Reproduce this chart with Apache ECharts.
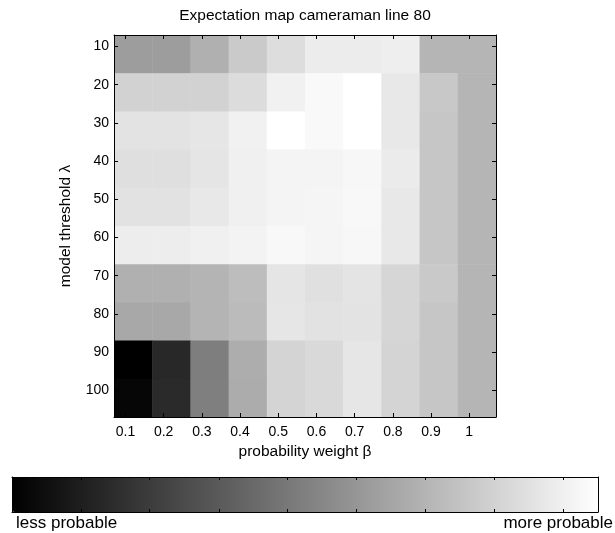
<!DOCTYPE html>
<html>
<head>
<meta charset="utf-8">
<script src="https://cdn.jsdelivr.net/npm/echarts@6/dist/echarts.min.js"></script>
<style>
  html, body { margin: 0; padding: 0; background: #ffffff; }
  #chart { width: 615px; height: 533px; }
</style>
</head>
<body>
<div id="chart"></div>
<script>
// Probability weight beta (columns) and model threshold lambda (rows)
const betaValues = [0.1, 0.2, 0.3, 0.4, 0.5, 0.6, 0.7, 0.8, 0.9, 1.0];
const lambdaValues = [10, 20, 30, 40, 50, 60, 70, 80, 90, 100];

// Normalised expectation (0 = less probable, 1 = more probable), one array per lambda row
const row10  = [0.616, 0.616, 0.690, 0.792, 0.867, 0.925, 0.925, 0.933, 0.710, 0.710];
const row20  = [0.824, 0.824, 0.824, 0.863, 0.945, 0.976, 1.000, 0.910, 0.784, 0.710];
const row30  = [0.890, 0.890, 0.902, 0.945, 1.000, 0.976, 1.000, 0.910, 0.776, 0.710];
const row40  = [0.875, 0.875, 0.898, 0.941, 0.957, 0.957, 0.969, 0.922, 0.776, 0.710];
const row50  = [0.886, 0.886, 0.910, 0.941, 0.957, 0.961, 0.973, 0.910, 0.776, 0.710];
const row60  = [0.929, 0.929, 0.941, 0.953, 0.973, 0.961, 0.969, 0.910, 0.776, 0.710];
const row70  = [0.690, 0.690, 0.706, 0.741, 0.898, 0.878, 0.894, 0.839, 0.788, 0.710];
const row80  = [0.659, 0.659, 0.706, 0.733, 0.902, 0.886, 0.890, 0.839, 0.776, 0.710];
const row90  = [0.000, 0.157, 0.494, 0.678, 0.831, 0.851, 0.902, 0.831, 0.776, 0.710];
const row100 = [0.024, 0.165, 0.498, 0.675, 0.831, 0.851, 0.902, 0.831, 0.776, 0.710];

// Colour bar range and its tick positions
const scaleMin = 0;
const scaleMax = 1;
const scaleTicks = [0.118, 0.235, 0.353, 0.470, 0.588, 0.706, 0.823, 0.941];

const rows = [row10, row20, row30, row40, row50, row60, row70, row80, row90, row100];
const cells = [];
rows.forEach((row, r) => {
  row.forEach((v, c) => cells.push([betaValues[c], lambdaValues[r], v]));
});

// Each cell spans from 0.3 of a step before its tick to 0.7 of a step after it
const betaStep = 0.1, lambdaStep = 10;
const font = '"Liberation Sans", Arial, Helvetica, sans-serif';

const chart = echarts.init(document.getElementById('chart'), null, { renderer: 'canvas' });

const tickStyle = { show: true, inside: true, length: 4, lineStyle: { color: '#000', width: 1 } };
const lineStyle = { show: true, onZero: false, lineStyle: { color: '#000', width: 1 } };

chart.setOption({
  backgroundColor: '#ffffff',
  animation: false,
  textStyle: { fontFamily: font },
  grid: [
    { left: 114, top: 35, width: 382, height: 382 },
    { left: 12, top: 477, width: 586, height: 35 }
  ],
  xAxis: [
    {
      type: 'value', gridIndex: 0, position: 'bottom', z: 10,
      min: betaValues[0] - 0.3 * betaStep, max: betaValues[betaValues.length - 1] + 0.7 * betaStep,
      axisLine: lineStyle,
      axisTick: Object.assign({ customValues: betaValues }, tickStyle),
      axisLabel: {
        customValues: betaValues, margin: 8, color: '#000', fontSize: 14, fontFamily: font,
        formatter: v => String(Math.round(v * 10) / 10)
      },
      splitLine: { show: false },
      name: 'probability weight β', nameLocation: 'middle', nameGap: 26,
      nameTextStyle: { color: '#000', fontSize: 15.5, fontFamily: font }
    },
    {
      type: 'value', gridIndex: 0, position: 'top', z: 10,
      min: betaValues[0] - 0.3 * betaStep, max: betaValues[betaValues.length - 1] + 0.7 * betaStep,
      axisLine: lineStyle,
      axisTick: Object.assign({ customValues: betaValues }, tickStyle),
      axisLabel: { show: false },
      splitLine: { show: false }
    },
    {
      type: 'value', gridIndex: 1, position: 'bottom', z: 10,
      min: scaleMin, max: scaleMax,
      axisLine: lineStyle,
      axisTick: Object.assign({ customValues: scaleTicks }, tickStyle, { length: 3 }),
      axisLabel: { show: false },
      splitLine: { show: false }
    },
    {
      type: 'value', gridIndex: 1, position: 'top', z: 10,
      min: scaleMin, max: scaleMax,
      axisLine: lineStyle,
      axisTick: Object.assign({ customValues: scaleTicks }, tickStyle, { length: 3 }),
      axisLabel: { show: false },
      splitLine: { show: false }
    }
  ],
  yAxis: [
    {
      type: 'value', gridIndex: 0, position: 'left', inverse: true, z: 10,
      min: lambdaValues[0] - 0.3 * lambdaStep, max: lambdaValues[lambdaValues.length - 1] + 0.7 * lambdaStep,
      axisLine: lineStyle,
      axisTick: Object.assign({ customValues: lambdaValues }, tickStyle),
      axisLabel: { customValues: lambdaValues, margin: 5, color: '#000', fontSize: 14, fontFamily: font },
      splitLine: { show: false },
      name: 'model threshold λ', nameLocation: 'middle', nameGap: 40, nameRotate: 90,
      nameTextStyle: { color: '#000', fontSize: 15.5, fontFamily: font }
    },
    {
      type: 'value', gridIndex: 0, position: 'right', inverse: true, z: 10,
      min: lambdaValues[0] - 0.3 * lambdaStep, max: lambdaValues[lambdaValues.length - 1] + 0.7 * lambdaStep,
      axisLine: lineStyle,
      axisTick: Object.assign({ customValues: lambdaValues }, tickStyle),
      axisLabel: { show: false },
      splitLine: { show: false }
    },
    {
      type: 'value', gridIndex: 1, position: 'left', z: 10, min: 0, max: 1,
      axisLine: lineStyle, axisTick: { show: false }, axisLabel: { show: false }, splitLine: { show: false }
    },
    {
      type: 'value', gridIndex: 1, position: 'right', z: 10, min: 0, max: 1,
      axisLine: lineStyle, axisTick: { show: false }, axisLabel: { show: false }, splitLine: { show: false }
    }
  ],
  visualMap: {
    type: 'continuous',
    min: scaleMin, max: scaleMax,
    seriesIndex: 0, dimension: 2,
    orient: 'horizontal',
    left: 12, top: 477,
    itemWidth: 35, itemHeight: 586,
    padding: 0,
    calculable: false, hoverLink: false, realtime: false,
    text: null, showLabel: false,
    inRange: { color: ['#000000', '#ffffff'] }
  },
  series: [{
    type: 'custom',
    coordinateSystem: 'cartesian2d',
    xAxisIndex: 0, yAxisIndex: 0,
    encode: { x: 0, y: 1 },
    data: cells,
    renderItem: (params, api) => {
      const b = api.value(0), l = api.value(1);
      const p1 = api.coord([b - 0.3 * betaStep, l - 0.3 * lambdaStep]);
      const p2 = api.coord([b + 0.7 * betaStep, l + 0.7 * lambdaStep]);
      const x = Math.min(p1[0], p2[0]), y = Math.min(p1[1], p2[1]);
      return {
        type: 'rect',
        shape: { x: x, y: y, width: Math.abs(p2[0] - p1[0]) + 0.5, height: Math.abs(p2[1] - p1[1]) + 0.5 },
        style: { fill: api.visual('color') }
      };
    }
  }],
  graphic: [
    { type: 'text', x: 305, y: 16, style: { text: 'Expectation map cameraman line 80', align: 'center', verticalAlign: 'middle', fill: '#000', font: '15.5px ' + font } },
    { type: 'text', x: 16, y: 523, style: { text: 'less probable', align: 'left', verticalAlign: 'middle', fill: '#000', font: '17px ' + font } },
    { type: 'text', x: 613, y: 523, style: { text: 'more probable', align: 'right', verticalAlign: 'middle', fill: '#000', font: '17px ' + font } }
  ]
});
</script>
</body>
</html>
